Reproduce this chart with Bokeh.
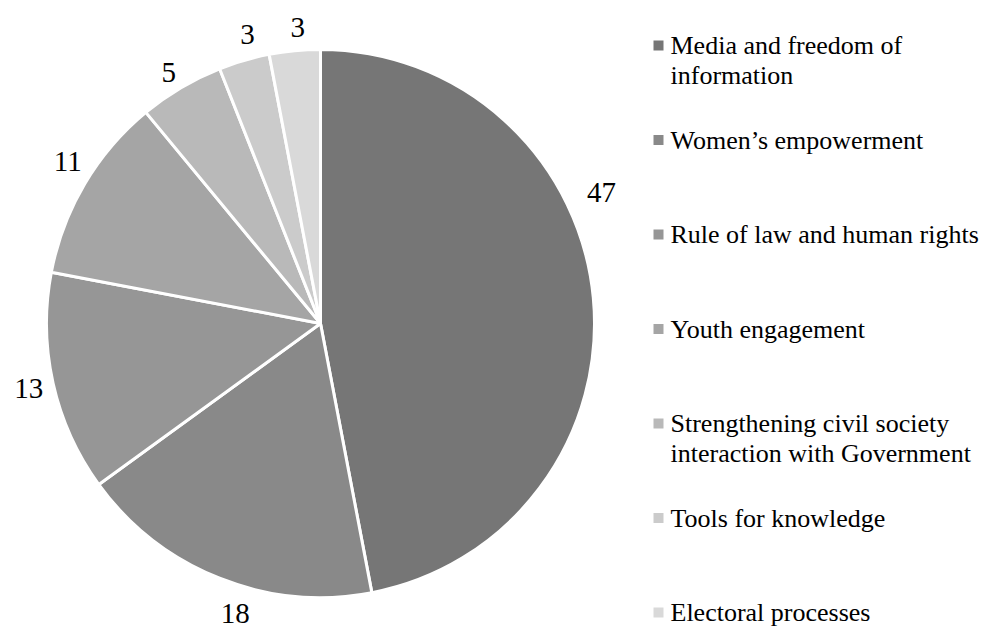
import math
from bokeh.plotting import figure
from bokeh.models import Range1d, ColumnDataSource
from bokeh.core.properties import value
from bokeh.embed import file_html
from bokeh.resources import INLINE

# ---- data ----
categories = [
    "Media and freedom of\ninformation",
    "Women\u2019s  empowerment",
    "Rule of law and human rights",
    "Youth engagement",
    "Strengthening civil society\ninteraction with Government",
    "Tools for knowledge",
    "Electoral processes",
]
values = [47, 18, 13, 11, 5, 3, 3]
colors = ["#767676", "#898989", "#969696", "#a5a5a5", "#b9b9b9", "#cbcbcb", "#d9d9d9"]

# ---- layout ----
W, H = 984, 631
CX, CY = 320, H - 323
R = 274
LABEL_R = 300
LABEL_NUDGE_DEG = [19.6, 5.2, 0, -2, 0.6, -2, -1]
LABEL_NUDGE_R = [10, 2, -1, 0, -7, -2, -3]
FONT = "'Liberation Serif', 'Times New Roman', serif"

p = figure(width=W, height=H, output_backend="svg", toolbar_location=None,
           x_range=Range1d(0, W), y_range=Range1d(0, H), min_border=0)
p.axis.visible = False
p.grid.visible = False
p.outline_line_color = None
p.background_fill_color = "white"

total = float(sum(values))
starts, ends, lx, ly = [], [], [], []
cum = 0.0
for i, v in enumerate(values):
    a0 = math.pi / 2 - 2 * math.pi * cum / total
    cum += v
    a1 = math.pi / 2 - 2 * math.pi * cum / total
    starts.append(a0)
    ends.append(a1)
    mid = (a0 + a1) / 2 + math.radians(LABEL_NUDGE_DEG[i])
    rr = LABEL_R + LABEL_NUDGE_R[i]
    lx.append(CX + rr * math.cos(mid))
    ly.append(CY + rr * math.sin(mid))

src = ColumnDataSource(dict(start=starts, end=ends, color=colors,
                            lx=lx, ly=ly, txt=[str(v) for v in values]))
p.wedge(x=CX, y=CY, radius=R, start_angle="start", end_angle="end",
        direction="clock", fill_color="color", line_color="white",
        line_width=3, source=src)
p.text(x="lx", y="ly", text="txt", source=src, text_align="center",
       text_baseline="middle", text_font=value(FONT),
       text_font_size="29px", text_color="black")

# ---- legend ----
LEG_X = 658
LEG_TOP = H - 45
LEG_STEP = 94.5
LINE_H = 30
mx, my, tx, ty, tt = [], [], [], [], []
for i, cat in enumerate(categories):
    y0 = LEG_TOP - i * LEG_STEP
    mx.append(LEG_X)
    my.append(y0)
    for j, line in enumerate(cat.split("\n")):
        tx.append(LEG_X + 12)
        ty.append(y0 - j * LINE_H)
        tt.append(line)
p.rect(x=mx, y=my, width=10, height=10, fill_color=colors, line_color=None)
p.text(x=tx, y=ty, text=tt, text_align="left", text_baseline="middle",
       text_font=value(FONT), text_font_size="26px", text_color="black")

open("out.html", "w").write(file_html(p, INLINE))
